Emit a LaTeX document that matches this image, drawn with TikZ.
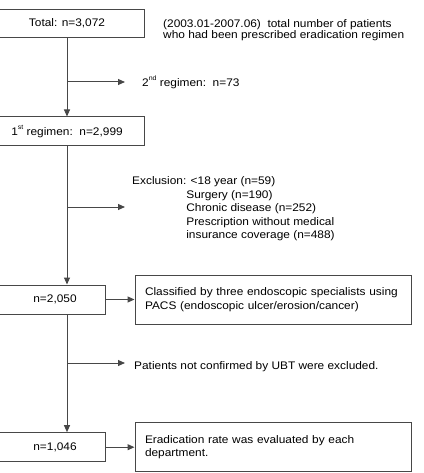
\documentclass[tikz,border=0pt]{standalone}
\usepackage{fontspec}
\setmainfont{Liberation Sans}[FakeStretch=1.08]
\usetikzlibrary{arrows.meta}

\tikzset{
  every node/.style={font=\fontsize{11}{13.5}\selectfont, inner sep=0pt},
  line/.style={draw=black!72, line width=1pt},
  arr/.style={line, -{Triangle[length=7pt,width=6pt]}},
  box/.style={line, rectangle, inner sep=0pt},
  txt/.style={anchor=west, align=left},
}
\newcommand{\sups}[1]{\raisebox{0.55em}{\fontsize{6.5}{6.5}\selectfont #1}}
\newlength{\exind}

\begin{document}
% indent of the continuation lines in the exclusion list
\settowidth{\exind}{\fontsize{11}{13.5}\selectfont Exclusion:}%
\begin{tikzpicture}[x=1pt, y=-1pt]
  \useasboundingbox (0,0) rectangle (423,473);
  \clip (0,0) rectangle (423,473);

  % main column of boxes (left edges run off the page)
  \node[box, minimum width=154pt, minimum height=28pt] (b1) at (67,23.5) {Total: n=3,072};
  \node[box, minimum width=154pt, minimum height=29pt] (b2) at (67,131.5) {1\sups{st} regimen:\ \ n=2,999};
  \node[box, minimum width=115pt, minimum height=29pt] (b3) at (47.5,299.5) {};
  \node (t3) at (55,299.5) {n=2,050};
  \node[box, minimum width=115pt, minimum height=29pt] (b5) at (47.5,447.2) {};
  \node (t5) at (55,447.2) {n=1,046};

  % side boxes
  \node[box, minimum width=276pt, minimum height=49pt, text width=256pt, align=left] (b4) at (273,299.7)
    {Classified by three endoscopic specialists using\\PACS (endoscopic ulcer/erosion/cancer)};
  \node[box, minimum width=276pt, minimum height=49.5pt, text width=256pt, align=left] (b6) at (273,447)
    {Eradication rate was evaluated by each\\department.};

  % free annotations
  \node[txt, font=\fontsize{11}{11.2}\selectfont] (note) at (163,29.8)
    {(2003.01-2007.06)\ \ total number of patients\\who had been prescribed eradication regimen};
  \node[txt] (t2) at (142,82) {2\sups{nd} regimen:\ \ n=73};
  \node[txt] (tex) at (132,209)
    {Exclusion: <18 year (n=59)\\
     \hspace*{\exind}Surgery (n=190)\\
     \hspace*{\exind}Chronic disease (n=252)\\
     \hspace*{\exind}Prescription without medical\\
     \hspace*{\exind}insurance coverage (n=488)};
  \node[txt] (tubt) at (134,367) {Patients not confirmed by UBT were excluded.};

  % trunk
  \coordinate (x0) at (67,0);
  \draw[arr] (b1.south) -- (b2.north);
  \draw[arr] (b2.south) -- (x0 |- b3.north);
  \draw[arr] (x0 |- b3.south) -- (x0 |- b5.north);

  % branches off the trunk
  \coordinate (j1) at (67,82);   \coordinate (e1) at (125,82);
  \coordinate (j2) at (67,207);  \coordinate (e2) at (125,207);
  \coordinate (j3) at (67,363);  \coordinate (e3) at (125,363);
  \draw[arr] (j1) -- (e1);
  \draw[arr] (j2) -- (e2);
  \draw[arr] (j3) -- (e3);

  % links to side boxes
  \draw[arr] (b3.east) -- (b4.west |- b3.east);
  \draw[arr] (b5.east) -- (b6.west |- b5.east);
\end{tikzpicture}
\end{document}
